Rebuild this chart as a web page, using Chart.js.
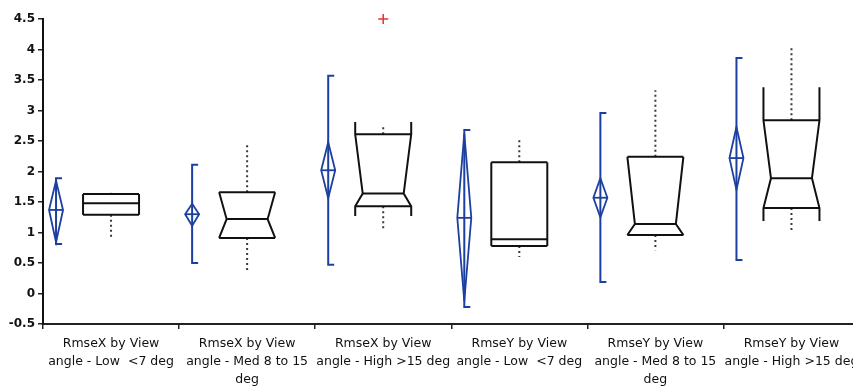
<!DOCTYPE html>
<html>
<head>
<meta charset="utf-8">
<script src="https://cdn.jsdelivr.net/npm/chart.js@4"></script>
<style>
  body { margin: 0; background: #fff; }
  #frame { width: 853px; height: 390px; overflow: hidden; position: relative; }
  #wrap { width: 866px; height: 390px; }
</style>
</head>
<body>
<div id="frame"><div id="wrap"><canvas id="rmseChart"></canvas></div></div>
<script>
/* ========== DATA ========== */
const categories = [
    ["RmseX by View", "angle - Low  <7 deg"],
    ["RmseX by View", "angle - Med 8 to 15", "deg"],
    ["RmseX by View", "angle - High >15 deg"],
    ["RmseY by View", "angle - Low  <7 deg"],
    ["RmseY by View", "angle - Med 8 to 15", "deg"],
    ["RmseY by View", "angle - High >15 deg"]
];

// box plot (quantiles)
const whiskerLow  = [0.91, 0.38, 1.07, 0.60, 0.71, 1.04];
const boxQ1       = [1.29, 0.91, 1.43, 0.78, 0.96, 1.40];
const boxMedian   = [1.48, 1.22, 1.64, 0.89, 1.14, 1.89];
const boxQ3       = [1.63, 1.66, 2.61, 2.15, 2.24, 2.84];
const whiskerHigh = [1.65, 2.47, 2.76, 2.55, 3.33, 4.02];
const notchLow    = [null, 0.91, 1.27, null, 0.96, 1.19];
const notchHigh   = [null, 1.66, 2.81, null, 2.24, 3.38];

// means diamonds and std dev bars
const meanValue = [1.37, 1.30, 2.02, 1.24, 1.57, 2.22];
const ciLow     = [0.84, 1.11, 1.56, -0.12, 1.25, 1.70];
const ciHigh    = [1.85, 1.47, 2.48, 2.62, 1.89, 2.73];
const sdLow     = [0.81, 0.50, 0.47, -0.22, 0.19, 0.55];
const sdHigh    = [1.89, 2.11, 3.57, 2.68, 2.96, 3.86];

// outliers
const outliers = [null, null, 4.5, null, null, null];

const yMin = -0.5, yMax = 4.5, yStep = 0.5;

/* ========== DRAWING ========== */
const BLUE = "#1c409f";

function line(ctx, x1, y1, x2, y2) {
    ctx.beginPath();
    ctx.moveTo(x1, y1);
    ctx.lineTo(x2, y2);
    ctx.stroke();
}

function drawMeans(ctx, mx, i, y) {
    const yM = y.getPixelForValue(meanValue[i]);
    const yCL = y.getPixelForValue(ciLow[i]);
    const yCH = y.getPixelForValue(ciHigh[i]);
    const ySL = y.getPixelForValue(sdLow[i]);
    const ySH = y.getPixelForValue(sdHigh[i]);
    const hw = 7;

    ctx.strokeStyle = BLUE;
    ctx.lineWidth = 2;
    ctx.setLineDash([]);

    // bracket
    ctx.beginPath();
    ctx.moveTo(mx + 6, ySH);
    ctx.lineTo(mx, ySH);
    ctx.lineTo(mx, ySL);
    ctx.lineTo(mx + 6, ySL);
    ctx.stroke();

    // diamond
    ctx.lineWidth = 1.8;
    ctx.beginPath();
    ctx.moveTo(mx, yCH);
    ctx.lineTo(mx + hw, yM);
    ctx.lineTo(mx, yCL);
    ctx.lineTo(mx - hw, yM);
    ctx.closePath();
    ctx.stroke();
    line(ctx, mx - hw, yM, mx + hw, yM);
}

function drawBox(ctx, cx, i, y) {
    const half = 28;
    const L = cx - half, R = cx + half;
    const yQ1 = y.getPixelForValue(boxQ1[i]);
    const yQ3 = y.getPixelForValue(boxQ3[i]);
    const yMed = y.getPixelForValue(boxMedian[i]);
    const yWL = y.getPixelForValue(whiskerLow[i]);
    const yWH = y.getPixelForValue(whiskerHigh[i]);
    const notched = notchHigh[i] !== null;
    const d = notched ? 7.5 : 0;
    const yNH = notched ? y.getPixelForValue(Math.max(notchHigh[i], boxQ3[i])) : yQ3;
    const yNL = notched ? y.getPixelForValue(Math.min(notchLow[i], boxQ1[i])) : yQ1;

    // dotted whiskers
    ctx.strokeStyle = "#3a3a3a";
    ctx.lineWidth = 2;
    ctx.setLineDash([2, 3]);
    line(ctx, cx, yQ3, cx, yWH);
    line(ctx, cx, yQ1, cx, yWL);
    ctx.setLineDash([]);

    // box outline with notch
    ctx.strokeStyle = "#111";
    ctx.lineWidth = 2;
    ctx.lineJoin = "miter";
    [[L, 1], [R, -1]].forEach(([sx, dir]) => {
        ctx.beginPath();
        ctx.moveTo(sx, yNH);
        ctx.lineTo(sx, yQ3);
        ctx.lineTo(sx + dir * d, yMed);
        ctx.lineTo(sx, yQ1);
        ctx.lineTo(sx, yNL);
        ctx.stroke();
    });
    line(ctx, L, yQ3, R, yQ3);
    line(ctx, L, yQ1, R, yQ1);
    line(ctx, L + d, yMed, R - d, yMed);
}

const boxPlotPlugin = {
    id: "boxPlots",
    afterDatasetsDraw(chart) {
        const { ctx, scales: { x, y } } = chart;
        ctx.save();
        categories.forEach((c, i) => {
            const cx = x.getPixelForValue(i);
            drawMeans(ctx, cx - 55, i, y);
            drawBox(ctx, cx, i, y);
        });
        ctx.restore();
    }
};

/* ========== CHART ========== */
new Chart(document.getElementById("rmseChart"), {
    type: "line",
    data: {
        labels: categories,
        datasets: [{
            label: "Outliers",
            data: outliers,
            showLine: false,
            pointStyle: "cross",
            pointRadius: 5,
            borderColor: "#e8302a",
            borderWidth: 1.5,
            clip: 10
        }]
    },
    options: {
        responsive: true,
        maintainAspectRatio: false,
        animation: false,
        layout: { padding: { top: 19, right: 4, bottom: 0, left: 0 } },
        plugins: {
            legend: { display: false },
            tooltip: { enabled: false }
        },
        scales: {
            x: {
                offset: true,
                grid: {
                    offset: true,
                    drawOnChartArea: false,
                    drawTicks: true,
                    tickLength: 5,
                    color: "#222",
                    lineWidth: 1.5
                },
                border: { display: true, color: "#222", width: 2 },
                ticks: {
                    autoSkip: false,
                    maxRotation: 0,
                    minRotation: 0,
                    padding: 6,
                    color: "#111",
                    font: { family: "DejaVu Sans", size: 12.5, lineHeight: 1.44 }
                },
                afterFit(scale) { scale.height = 66; }
            },
            y: {
                min: yMin,
                max: yMax,
                grid: {
                    drawOnChartArea: false,
                    drawTicks: true,
                    tickLength: 5,
                    color: "#222",
                    lineWidth: 1.5
                },
                border: { display: true, color: "#111", width: 2 },
                ticks: {
                    stepSize: yStep,
                    padding: 3,
                    color: "#111",
                    font: { family: "DejaVu Sans", size: 12, weight: "bold" },
                    callback: v => String(v)
                },
                afterFit(scale) { scale.width = 43; }
            }
        }
    },
    plugins: [boxPlotPlugin]
});
</script>
</body>
</html>
